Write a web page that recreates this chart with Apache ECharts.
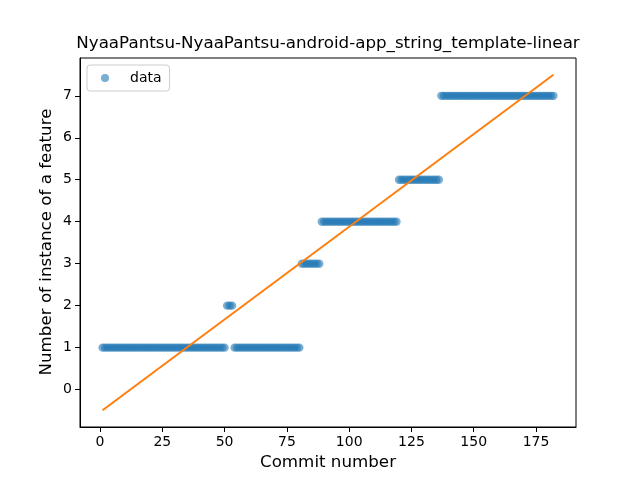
<!DOCTYPE html>
<html>
<head>
<meta charset="utf-8">
<script src="https://cdn.jsdelivr.net/npm/echarts@6/dist/echarts.min.js"></script>
<style>html,body{margin:0;padding:0;background:#fff}#c{width:640px;height:480px}</style>
</head>
<body>
<div id="c"></div>
<script>
var titleText = "NyaaPantsu-NyaaPantsu-android-app_string_template-linear";
var xLabel = "Commit number";
var yLabel = "Number of instance of a feature";
var xTicks = [0, 25, 50, 75, 100, 125, 150, 175];
var yTicks = [0, 1, 2, 3, 4, 5, 6, 7];
// feature count for commits 1..182
var featureCounts = [
  1,1,1,1,1,1,1,1,1,1,
  1,1,1,1,1,1,1,1,1,1,
  1,1,1,1,1,1,1,1,1,1,
  1,1,1,1,1,1,1,1,1,1,
  1,1,1,1,1,1,1,1,1,1,
  2,2,2,1,1,1,1,1,1,1,
  1,1,1,1,1,1,1,1,1,1,
  1,1,1,1,1,1,1,1,1,1,
  3,3,3,3,3,3,3,3,4,4,
  4,4,4,4,4,4,4,4,4,4,
  4,4,4,4,4,4,4,4,4,4,
  4,4,4,4,4,4,4,4,4,5,
  5,5,5,5,5,5,5,5,5,5,
  5,5,5,5,5,5,7,7,7,7,
  7,7,7,7,7,7,7,7,7,7,
  7,7,7,7,7,7,7,7,7,7,
  7,7,7,7,7,7,7,7,7,7,
  7,7,7,7,7,7,7,7,7,7,
  7,7
];
var fitX = [1, 182];
var fitY = [-0.49, 7.50];

var scatterData = featureCounts.map(function (v, i) { return [i + 1, v]; });
var lineData = fitX.map(function (x, i) { return [x, fitY[i]]; });

var FONT = "DejaVu Sans";
var chart = echarts.init(document.getElementById('c'), null, {renderer: 'canvas'});
chart.setOption({
  animation: false,
  backgroundColor: '#ffffff',
  grid: {left: 80, right: 64, top: 58, bottom: 53, show: true, borderColor: '#000', borderWidth: 1, backgroundColor: 'transparent'},
  xAxis: {
    type: 'value', min: -8.05, max: 191.05,
    axisLine: {show: true, onZero: false, lineStyle: {color: '#000', width: 1}},
    axisTick: {show: true, inside: false, length: 5, lineStyle: {color: '#000'}, customValues: xTicks},
    axisLabel: {show: true, margin: 8, color: '#000', fontFamily: FONT, fontSize: 14, customValues: xTicks},
    splitLine: {show: false}
  },
  yAxis: {
    type: 'value', min: -0.89, max: 7.9,
    axisLine: {show: true, onZero: false, lineStyle: {color: '#000', width: 1}},
    axisTick: {show: true, inside: false, length: 5, lineStyle: {color: '#000'}, customValues: yTicks},
    axisLabel: {show: true, margin: 8, color: '#000', fontFamily: FONT, fontSize: 14, customValues: yTicks},
    splitLine: {show: false}
  },
  legend: {
    data: ['data'], left: 87, top: 65, orient: 'vertical',
    padding: [5, 8, 5, 14], borderColor: '#cccccc', borderWidth: 1, borderRadius: 3,
    backgroundColor: 'rgba(255,255,255,0.8)',
    itemWidth: 8, itemHeight: 8, itemGap: 5,
    textStyle: {fontFamily: FONT, fontSize: 14, color: '#000', padding: [0, 0, 0, 16], lineHeight: 16}
  },
  graphic: [
    {type: 'text', position: [328, 44], style: {text: titleText, font: '16.7px "DejaVu Sans"', fill: '#000', textAlign: 'center', textVerticalAlign: 'middle'}},
    {type: 'text', position: [328, 463], style: {text: xLabel, font: '16.7px "DejaVu Sans"', fill: '#000', textAlign: 'center', textVerticalAlign: 'middle'}},
    {type: 'text', position: [47, 242], rotation: Math.PI / 2, style: {text: yLabel, font: '16.7px "DejaVu Sans"', fill: '#000', textAlign: 'center', textVerticalAlign: 'middle'}}
  ],
  series: [
    {name: 'data', type: 'scatter', data: scatterData, symbol: 'circle', symbolSize: 8.3,
     itemStyle: {color: '#1f77b4', opacity: 0.6}, z: 2},
    {name: 'fit', type: 'line', data: lineData, showSymbol: false, symbol: 'none',
     lineStyle: {color: '#ff7f0e', width: 2}, z: 3}
  ]
});
</script>
</body>
</html>
